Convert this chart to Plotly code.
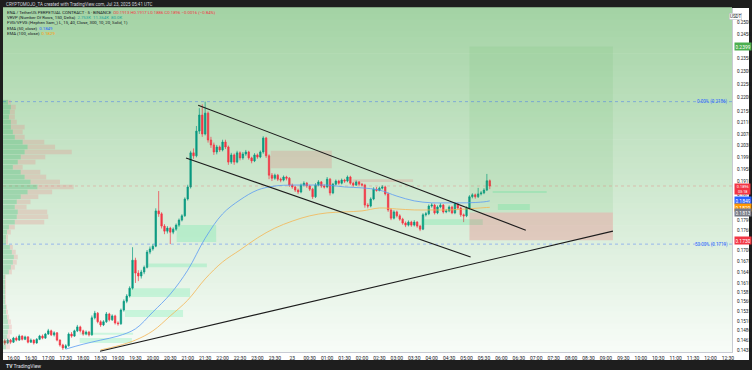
import math
import pandas as pd
import plotly.graph_objects as go

W, H = 752, 370
ML, MR, MT, MB = 3, 20, 8, 18

# ---------------- data ----------------
opens = [.1460,.1455,.1462,.1457,.1467,.1462,.1472,.1464,.1470,.1457,
         .1462,.1455,.1464,.1472,.1467,.1477,.1485,.1475,.1480,.1462,
         .1450,.1443,.1448,.1477,.1472,.1485,.1495,.1485,.1477,.1482,
         .1475,.1518,.1530,.1508,.1500,.1508,.1528,.1513,.1523,.1505,
         .1503,.1538,.1561,.1575,.1596,.1673,.1637,.1629,.1640,.1653,
         .1696,.1705,.1713,.1818,.1809,.1772,.1757,.1766,.1754,.1763,
         .1775,.1790,.1803,.1855,.1893,.2005,.1995,.2080,.2137,.2070,
         .2144,.2049,.2032,.2008,.2025,.2015,.2042,.2025,.1974,.1998,
         .1974,.2005,.1988,.2001,.2008,.1988,.1978,.1998,.1991,.2008,
         .2056,.1995,.1931,.1921,.1931,.1918,.1915,.1925,.1921,.1899,
         .1893,.1883,.1877,.1899,.1905,.1896,.1886,.1862,.1899,.1909,
         .1896,.1893,.1918,.1874,.1902,.1912,.1905,.1915,.1912,.1925,
         .1905,.1899,.1909,.1902,.1899,.1836,.1833,.1855,.1886,.1882,
         .1889,.1893,.1871,.1821,.1796,.1815,.1803,.1793,.1781,.1775,
         .1784,.1775,.1784,.1772,.1763,.1806,.1809,.1833,.1836,.1812,
         .1830,.1836,.1815,.1818,.1830,.1812,.1839,.1827,.1806,.1803,
         .1827,.1862,.1868,.1862,.1871,.1874,.1883,.1913]
highs = [.1464,.1466,.1465,.1470,.1471,.1476,.1474,.1473,.1472,.1466,
         .1464,.1467,.1475,.1476,.1480,.1490,.1488,.1484,.1482,.1464,
         .1453,.1452,.1481,.1482,.1488,.1500,.1498,.1488,.1486,.1485,
         .1524,.1536,.1533,.1512,.1512,.1533,.1531,.1527,.1526,.1509,
         .1542,.1566,.1580,.1601,.1710,.1680,.1645,.1646,.1658,.1702,
         .1712,.1720,.1826,.1880,.1814,.1778,.1772,.1770,.1768,.1780,
         .1795,.1808,.1860,.1900,.2012,.2020,.2098,.2162,.2176,.2186,
         .2150,.2060,.2040,.2032,.2030,.2050,.2050,.2030,.2005,.2003,
         .2012,.2010,.2008,.2015,.2012,.1992,.2004,.2003,.2013,.2062,
         .2060,.2000,.1938,.1936,.1935,.1923,.1930,.1929,.1925,.1904,
         .1897,.1888,.1904,.1911,.1909,.1900,.1890,.1905,.1915,.1912,
         .1901,.1925,.1922,.1906,.1917,.1916,.1920,.1919,.1930,.1929,
         .1909,.1914,.1912,.1906,.1903,.1842,.1860,.1892,.1893,.1894,
         .1899,.1897,.1875,.1826,.1820,.1819,.1808,.1797,.1786,.1789,
         .1788,.1790,.1787,.1776,.1811,.1815,.1838,.1842,.1840,.1835,
         .1842,.1839,.1824,.1835,.1834,.1844,.1843,.1831,.1810,.1832,
         .1867,.1873,.1872,.1890,.1880,.1889,.1935,.1917]
lows = [.1450,.1452,.1453,.1455,.1459,.1460,.1461,.1462,.1454,.1455,
        .1451,.1453,.1462,.1464,.1465,.1475,.1472,.1471,.1459,.1446,
        .1438,.1440,.1446,.1468,.1470,.1482,.1481,.1473,.1474,.1471,
        .1473,.1514,.1504,.1495,.1497,.1505,.1509,.1510,.1501,.1498,
        .1500,.1534,.1556,.1571,.1592,.1610,.1615,.1622,.1634,.1650,
        .1690,.1700,.1710,.1800,.1765,.1748,.1750,.1719,.1748,.1758,
        .1770,.1786,.1800,.1850,.1888,.1985,.1990,.2070,.2060,.2065,
        .2040,.2022,.1998,.2000,.2008,.2010,.2018,.1965,.1968,.1965,
        .1970,.1980,.1982,.1995,.1982,.1970,.1974,.1985,.1987,.2002,
        .1988,.1918,.1912,.1916,.1912,.1908,.1911,.1914,.1893,.1887,
        .1877,.1870,.1873,.1895,.1890,.1880,.1855,.1858,.1895,.1890,
        .1888,.1889,.1866,.1870,.1898,.1900,.1901,.1906,.1908,.1900,
        .1894,.1896,.1897,.1894,.1828,.1826,.1829,.1851,.1878,.1879,
        .1885,.1866,.1815,.1790,.1792,.1798,.1788,.1776,.1769,.1771,
        .1770,.1771,.1767,.1757,.1760,.1801,.1805,.1828,.1807,.1808,
        .1826,.1810,.1811,.1814,.1808,.1808,.1822,.1800,.1784,.1799,
        .1823,.1857,.1856,.1858,.1866,.1870,.1880,.1886]
closes = [.1455,.1462,.1457,.1467,.1462,.1472,.1464,.1470,.1457,.1462,
          .1455,.1464,.1472,.1467,.1477,.1485,.1475,.1480,.1462,.1450,
          .1443,.1448,.1477,.1472,.1485,.1495,.1485,.1477,.1482,.1475,
          .1518,.1530,.1508,.1500,.1508,.1528,.1513,.1523,.1505,.1503,
          .1538,.1561,.1575,.1596,.1673,.1637,.1629,.1640,.1653,.1696,
          .1705,.1713,.1818,.1809,.1772,.1757,.1766,.1754,.1763,.1775,
          .1790,.1803,.1855,.1893,.2005,.1995,.2080,.2137,.2070,.2144,
          .2049,.2032,.2008,.2025,.2015,.2042,.2025,.1974,.1998,.1974,
          .2005,.1988,.2001,.2008,.1988,.1978,.1998,.1991,.2008,.2056,
          .1995,.1931,.1921,.1931,.1918,.1915,.1925,.1921,.1899,.1893,
          .1883,.1877,.1899,.1905,.1896,.1886,.1862,.1899,.1909,.1896,
          .1893,.1918,.1874,.1902,.1912,.1905,.1915,.1912,.1925,.1905,
          .1899,.1909,.1902,.1899,.1836,.1833,.1855,.1886,.1882,.1889,
          .1893,.1871,.1821,.1796,.1815,.1803,.1793,.1781,.1775,.1784,
          .1775,.1784,.1772,.1763,.1806,.1809,.1833,.1836,.1812,.1830,
          .1836,.1815,.1818,.1830,.1812,.1839,.1827,.1806,.1803,.1827,
          .1862,.1868,.1862,.1871,.1874,.1883,.1913,.1896]
times = pd.date_range("2025-07-22 15:45", periods=len(closes), freq="5min")

ema50_t = ["2025-07-22 17:30","2025-07-22 18:00","2025-07-22 18:30","2025-07-22 19:00",
           "2025-07-22 19:30","2025-07-22 20:00","2025-07-22 20:30","2025-07-22 21:00",
           "2025-07-22 21:30","2025-07-22 22:00","2025-07-22 22:30","2025-07-22 23:00",
           "2025-07-22 23:30","2025-07-23 00:00","2025-07-23 00:30","2025-07-23 01:00",
           "2025-07-23 01:30","2025-07-23 02:00","2025-07-23 02:30","2025-07-23 03:00",
           "2025-07-23 03:30","2025-07-23 04:00","2025-07-23 04:30","2025-07-23 05:00",
           "2025-07-23 05:30","2025-07-23 05:40"]
ema50 = [.1440,.1452,.1462,.1472,.1490,.1533,.1580,.1645,.1736,.1809,.1852,.1883,
         .1896,.1899,.1899,.1899,.1893,.1890,.1883,.1864,.1849,.1843,.1843,.1843,
         .1846,.1849]
ema100_t = ["2025-07-22 18:30","2025-07-22 19:00","2025-07-22 19:30","2025-07-22 20:00",
            "2025-07-22 20:30","2025-07-22 21:00","2025-07-22 21:30","2025-07-22 22:00",
            "2025-07-22 22:30","2025-07-22 23:00","2025-07-22 23:30","2025-07-23 00:00",
            "2025-07-23 00:30","2025-07-23 01:00","2025-07-23 01:30","2025-07-23 02:00",
            "2025-07-23 02:30","2025-07-23 03:00","2025-07-23 03:30","2025-07-23 04:00",
            "2025-07-23 04:30","2025-07-23 05:00","2025-07-23 05:30","2025-07-23 05:40"]
ema100 = [.1438,.1448,.1462,.1485,.1523,.1564,.1621,.1668,.1702,.1737,.1766,.1787,
          .1803,.1812,.1815,.1818,.1827,.1824,.1821,.1821,.1821,.1824,.1828,.1829]

# volume profile rows (price level, up volume K, down volume K)
vp_price = [.2184,.2166,.2148,.2130,.2112,.2094,.2077,.2059,.2042,.2025,
            .2008,.1991,.1974,.1957,.1941,.1925,.1909,.1893,.1877,.1862,
            .1846,.1830,.1815,.1800,.1784,.1769,.1754,.1739,.1725,.1710,
            .1696,.1682,.1667,.1653,.1640,.1626,.1612,.1599,.1586,.1572,
            .1559,.1546,.1533,.1520,.1508,.1495,.1482,.1470,.1457,.1445]
vp_up = [5,8,7,6,8,8,10,12,20,25,22,18,15,10,18,22,28,35,25,18,
         14,12,15,14,12,6,4,3,3,7,9,11,10,8,6,2,2,2,2,2,
         2,3,3,4,5,6,5,4,3,3]
vp_down = [3,5,5,6,6,14,10,10,22,28,48,25,18,10,20,22,30,37,25,18,
           14,12,30,32,30,6,4,2,2,3,4,4,4,4,3,1,1,1,1,1,
           1,1,2,2,3,3,4,3,5,4]

# drawings
fvg_bear = [("2025-07-22 23:23", "2025-07-23 01:08", .1954, .2012),
            ("2025-07-23 01:44", "2025-07-23 03:28", .1909, .1918)]
fvg_bull = [("2025-07-23 05:45", "2025-07-23 07:18", .1874, .1880),
            ("2025-07-23 05:54", "2025-07-23 06:49", .1821, .1839),
            ("2025-07-23 03:43", "2025-07-23 05:28", .1775, .1793),
            ("2025-07-22 20:41", "2025-07-22 21:49", .1725, .1775),
            ("2025-07-22 19:52", "2025-07-22 21:33", .1653, .1664),
            ("2025-07-22 19:20", "2025-07-22 21:04", .1572, .1596),
            ("2025-07-22 19:12", "2025-07-22 20:52", .1520, .1538),
            ("2025-07-22 17:54", "2025-07-22 19:26", .1475, .1480),
            ("2025-07-22 17:54", "2025-07-22 19:24", .1455, .1467)]
lp_start, lp_end = "2025-07-23 05:05", "2025-07-23 09:12"
lp_entry, lp_target, lp_stop = .1813, .2399, .1730
chan_upper = (["2025-07-22 21:18", "2025-07-23 06:42"], [.2173, .1760])
chan_lower = (["2025-07-22 20:57", "2025-07-23 05:07"], [.1988, .1682])
support = (["2025-07-22 18:29", "2025-07-23 09:12"], [.1435, .1757])
fib0, fib50 = .2186, .1719
last_price = .1896

x_ticktext = ["16:00","16:30","17:00","17:30","18:00","18:30","19:00","19:30","20:00",
              "20:30","21:00","21:30","22:00","22:30","23:00","23:30","23","00:30",
              "01:00","01:30","02:00","02:30","03:00","03:30","04:00","04:30","05:00",
              "05:30","06:00","06:30","07:00","07:30","08:00","08:30","09:00","09:30",
              "10:00","10:30","11:00","11:30","12:00","12:30"]
y_ticks = [.2500,.2450,.2350,.2300,.2250,.2200,.2150,.2110,.2070,.2030,.1990,.1950,
           .1910,.1870,.1790,.1760,.1700,.1670,.1640,.1610,.1585,.1560,.1535,.1510,
           .1486,.1462,.1438]

# ---------------- figure ----------------
PW = W - ML - MR
PH = H - MT - MB
def px(X):
    return (X - ML) / PW
def py(Y):
    return (H - MB - Y) / PH

fig = go.Figure()

def rect(x0, x1, y0, y1, color):
    return go.Scatter(x=[x0, x1, x1, x0, x0], y=[y0, y0, y1, y1, y0], mode="lines",
                      fill="toself", fillcolor=color, line=dict(width=0, color=color),
                      hoverinfo="skip", showlegend=False)

for s, e, lo, hi in fvg_bear:
    fig.add_trace(rect(s, e, lo, hi, "rgba(242,54,69,0.15)"))
for s, e, lo, hi in fvg_bull:
    fig.add_trace(rect(s, e, lo, hi, "rgba(0,230,118,0.16)"))

# long position
fig.add_trace(rect(lp_start, lp_end, lp_entry, lp_target, "rgba(76,175,80,0.10)"))
fig.add_trace(rect(lp_start, lp_end, lp_stop, lp_entry, "rgba(242,54,69,0.20)"))

# fib + price lines
xr = ["2025-07-22 15:42", "2025-07-23 12:37"]
fig.add_trace(go.Scatter(x=xr, y=[fib0, fib0], mode="lines",
                         line=dict(color="rgba(41,98,255,0.5)", width=0.8, dash="dot"),
                         hoverinfo="skip", showlegend=False))
fig.add_trace(go.Scatter(x=xr, y=[fib50, fib50], mode="lines",
                         line=dict(color="rgba(41,98,255,0.5)", width=0.8, dash="dot"),
                         hoverinfo="skip", showlegend=False))
fig.add_trace(go.Scatter(x=xr, y=[last_price, last_price], mode="lines",
                         line=dict(color="rgba(242,54,69,0.3)", width=0.8, dash="dot"),
                         hoverinfo="skip", showlegend=False))

# EMAs
fig.add_trace(go.Scatter(x=ema100_t, y=ema100, mode="lines", line=dict(color="#f5b553", width=0.8, shape="spline"),
                         hoverinfo="skip", showlegend=False))
fig.add_trace(go.Scatter(x=ema50_t, y=ema50, mode="lines", line=dict(color="#5b9bf4", width=0.8, shape="spline"),
                         hoverinfo="skip", showlegend=False))

# candles
fig.add_trace(go.Candlestick(x=times, open=opens, high=highs, low=lows, close=closes,
                             increasing=dict(line=dict(color="#089981", width=0.7), fillcolor="#089981"),
                             decreasing=dict(line=dict(color="#f23645", width=0.7), fillcolor="#f23645"),
                             whiskerwidth=0, showlegend=False, hoverinfo="skip"))

# trend lines
for tx, ty in (chan_upper, chan_lower, support):
    fig.add_trace(go.Scatter(x=tx, y=ty, mode="lines", line=dict(color="#1c1c1c", width=1.1),
                             hoverinfo="skip", showlegend=False))

# volume profile on an overlay axis
vmax = max(u + d for u, d in zip(vp_up, vp_down))
up_x, up_y, dn_x, dn_y = [], [], [], []
for p, u, d in zip(vp_price, vp_up, vp_down):
    up_x += [0, u, None]; up_y += [p, p, None]
    dn_x += [u, u + d, None]; dn_y += [p, p, None]
fig.add_trace(go.Scatter(x=dn_x, y=dn_y, xaxis="x2", mode="lines",
                         line=dict(color="rgba(235,130,130,0.26)", width=4.6),
                         hoverinfo="skip", showlegend=False))
fig.add_trace(go.Scatter(x=up_x, y=up_y, xaxis="x2", mode="lines",
                         line=dict(color="rgba(40,170,90,0.30)", width=4.6),
                         hoverinfo="skip", showlegend=False))

# background gradient + frame
shapes = []
N = 60
top = (163, 211, 164)
bot = (248, 252, 248)
for k in range(N):
    f = (k + 0.5) / N
    c = tuple(int(round(bot[j] + (top[j] - bot[j]) * f)) for j in range(3))
    shapes.append(dict(type="rect", xref="paper", yref="paper", x0=0, x1=1,
                       y0=k / N, y1=(k + 1) / N + 0.002, fillcolor="rgb(%d,%d,%d)" % c,
                       line=dict(width=0), layer="below"))
shapes.append(dict(type="rect", xref="paper", yref="paper", x0=1, x1=px(749), y0=py(352), y1=py(8),
                   fillcolor="white", line=dict(width=0), layer="below"))
shapes.append(dict(type="rect", xref="paper", yref="paper", x0=0, x1=px(749), y0=py(360), y1=0,
                   fillcolor="white", line=dict(width=0), layer="below"))

fig.update_layout(
    width=W, height=H, margin=dict(l=ML, r=MR, t=MT, b=MB, autoexpand=False),
    paper_bgcolor="#1e1e1e", plot_bgcolor="white",
    font=dict(family="Roboto, Arial, sans-serif", size=5, color="#131722"),
    showlegend=False, shapes=shapes,
    xaxis=dict(type="date", range=xr, autorange=False, tickmode="array",
               tickvals=pd.date_range("2025-07-22 16:00", "2025-07-23 12:30", freq="30min"),
               ticktext=x_ticktext, showgrid=False, zeroline=False, rangeslider=dict(visible=False),
               showline=True, linecolor="#c8cbd3", linewidth=1, ticks="", tickfont=dict(size=5, color="#131722"),
               ticklabelstandoff=1),
    xaxis2=dict(overlaying="x", range=[0, vmax / 0.097], autorange=False, visible=False, anchor="y"),
    yaxis=dict(type="log", side="right", range=[math.log10(0.1433), math.log10(0.2560)], autorange=False,
               tickmode="array", tickvals=y_ticks, ticktext=["%.4f" % v for v in y_ticks],
               showgrid=False, zeroline=False, showline=True, linecolor="#c8cbd3", linewidth=1,
               ticks="", tickfont=dict(size=4.6, color="#131722"), ticklabelstandoff=3),
)

ann = []
L = math.log10
def axis_label(price, text, bg):
    ann.append(dict(xref="paper", yref="y", x=px(733.5), y=L(price), xanchor="left", yanchor="middle",
                    text=text, showarrow=False, bgcolor=bg, font=dict(size=5, color="white"),
                    borderpad=0.5, width=15, align="center"))

axis_label(lp_target, "0.2399", "#4caf50")
# current price label with countdown
ann.append(dict(xref="paper", yref="paper", x=px(733.5), y=py(182.8), xanchor="left", yanchor="top",
                text="0.1896<br>03:18", showarrow=False, bgcolor="#f23645",
                font=dict(size=3.8, color="white"), borderpad=0.2, width=15, align="center"))
axis_label(.1849, "0.1849", "#2962ff")
axis_label(.1829, "0.1829", "#ff9800")
axis_label(.1813, "0.1813", "#787b86")
axis_label(lp_stop, "0.1730", "#f23645")
ann.append(dict(xref="paper", yref="paper", x=px(742), y=py(12.5), text="USDT", showarrow=False,
                bgcolor="white", bordercolor="#b2b5be", borderwidth=0.5, borderpad=0.5,
                font=dict(size=4.5, color="#131722")))

# fib labels
ann.append(dict(xref="paper", yref="y", x=px(730), y=L(fib0), xanchor="right", yanchor="middle",
                text="0.00% (0.2186)", showarrow=False, font=dict(size=4.5, color="#2962ff")))
ann.append(dict(xref="paper", yref="y", x=px(730), y=L(fib50), xanchor="right", yanchor="middle",
                text="50.00% (0.1719)", showarrow=False, font=dict(size=4.5, color="#2962ff")))

# header + legend text
ann.append(dict(xref="paper", yref="paper", x=px(4), y=py(4.5), xanchor="left", yanchor="middle",
                text="CRYPTOMOJO_TA created with TradingView.com, Jul 23, 2025 05:41 UTC",
                showarrow=False, font=dict(size=4.5, color="#d1d4dc")))
legend_lines = [
    "ENA / TetherUS PERPETUAL CONTRACT · 5 · BINANCE  "
    "<span style='color:#f23645'>O0.1913 H0.1917 L0.1886 C0.1896 −0.0016 (−0.84%)</span>",
    "VRVP (Number Of Rows, 150, Delta)  <span style='color:#26a69a'>2.753K  11.364K  80.0K</span>",
    "FVG/VFVG (Hephen Sam_) L, 15, 40, Close, 300, 10, 20, Solid, 1)",
    "EMA (50, close)  <span style='color:#2962ff'>0.1849</span>",
    "EMA (100, close)  <span style='color:#ff9800'>0.1829</span>",
]
for i, t in enumerate(legend_lines):
    ann.append(dict(xref="paper", yref="paper", x=px(5), y=py(12.3 + i * 5.3), xanchor="left",
                    yanchor="middle", text=t, showarrow=False, font=dict(size=4.3, color="#131722")))
ann.append(dict(xref="paper", yref="paper", x=px(4), y=py(365.5), xanchor="left", yanchor="middle",
                text="<b>TV</b> TradingView", showarrow=False, font=dict(size=5, color="#e0e3eb")))
fig.update_layout(annotations=ann)

fig.write_html("out.html")
